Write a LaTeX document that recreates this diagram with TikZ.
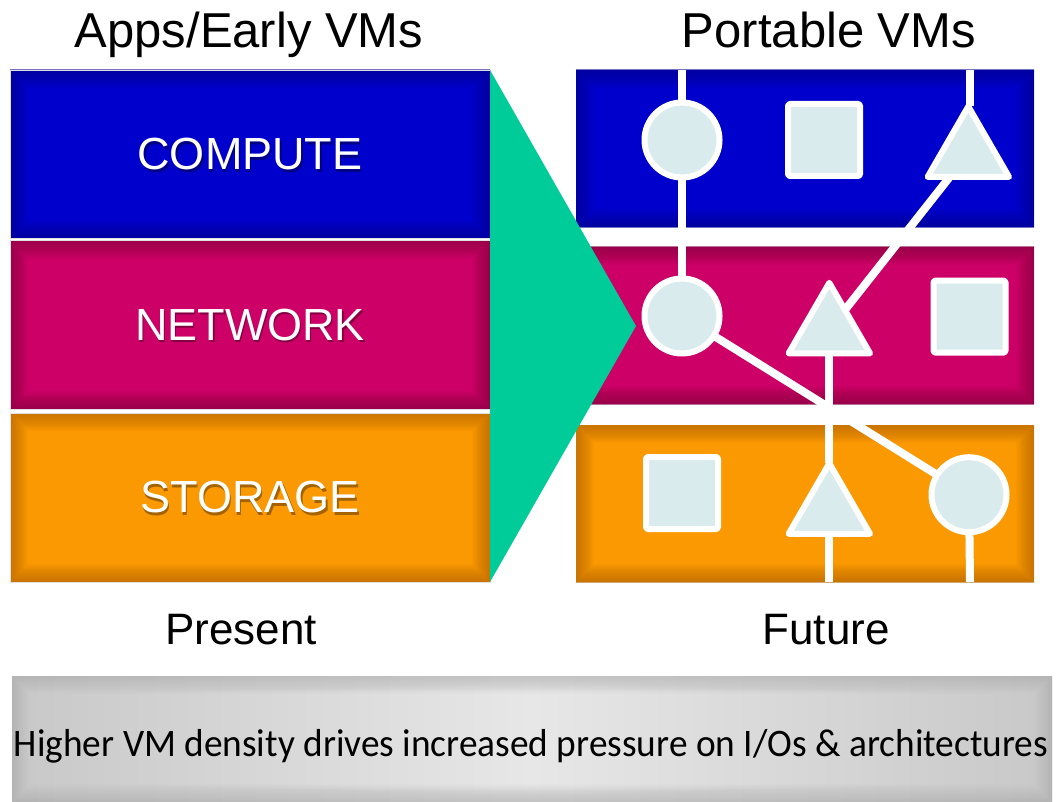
\documentclass[tikz,border=0pt]{standalone}
\usepackage{fontspec}
\usepackage{graphicx}
\setmainfont{Liberation Sans}
\newfontfamily\captionfont{Carlito}
\usetikzlibrary{shapes.geometric}

\pgfdeclarelayer{panels}
\pgfdeclarelayer{links}
\pgfsetlayers{panels,links,main}

\definecolor{cmpblue}{HTML}{0000CC}
\definecolor{cmpedge}{HTML}{00008C}
\definecolor{netpink}{HTML}{CC0066}
\definecolor{netedge}{HTML}{7D003D}
\definecolor{stoorange}{HTML}{FB9902}
\definecolor{stoedge}{HTML}{AE6200}
\definecolor{arrowgreen}{HTML}{00CC99}
\definecolor{vmfill}{HTML}{DAEBEE}
\definecolor{vmrim}{HTML}{B9C9CA}
\definecolor{bannerside}{HTML}{C8C8C8}
\definecolor{bannermid}{HTML}{E7E7E7}

% soft body colour of the VM tokens, darkening towards the rim
\pgfdeclareradialshading{vmshade}{\pgfpoint{0bp}{0bp}}{%
  color(0bp)=(vmfill); color(38bp)=(vmfill); color(50bp)=(vmrim); color(100bp)=(vmrim)}

\tikzset{
  vignette/.style={path picture={
    \foreach \k in {1,...,20}
      \draw[#1, opacity=0.04, line width=\k*1.8pt]
        (path picture bounding box.south west) rectangle (path picture bounding box.north east);}},
  panel/.style 2 args={fill=#1, vignette=#2, inner sep=0pt, outer sep=0pt},
  layerbox/.style={draw=black!12, line width=0.8pt},
  boxlabel/.style={font=\fontsize{45}{50}\selectfont, text=white, inner sep=0pt},
  labelshadow/.style={font=\fontsize{45}{50}\selectfont, text=black, opacity=0.35, inner sep=0pt},
  heading/.style={font=\fontsize{49}{55}\selectfont, inner sep=0pt, anchor=base},
  era/.style={font=\fontsize{44}{50}\selectfont, inner sep=0pt, anchor=base},
  vm/.style={shade, shading=vmshade, draw=white, line width=6pt, line join=round,
    inner sep=0pt, outer sep=0pt},
  vmcircle/.style={vm, circle, minimum size=75pt},
  vmsquare/.style={vm, rectangle, rounded corners=1.5pt, minimum width=72pt, minimum height=72pt},
  vmtriangle/.style={vm, regular polygon, regular polygon sides=3, minimum size=94pt},
  link/.style={draw=white, line width=8pt},
}

\begin{document}
\begin{tikzpicture}[x=1pt, y=-1pt]
\useasboundingbox (0,0) rectangle (1060,802);

% ---- column headings and captions
\node[heading] (head-left)  at (249,48) {Apps/Early VMs};
\node[heading] (head-right) at (829,48) {Portable VMs};
\node[era] (era-present) at (241,644) {Present};
\node[era] (era-future)  at (826,644) {Future};

% ---- present: three stacked layers
\begin{pgfonlayer}{panels}
  \node[panel={cmpblue}{cmpedge}, layerbox, minimum width=480pt, minimum height=168.5pt] (l-compute) at (250,154.25) {};
  \node[panel={netpink}{netedge}, layerbox, minimum width=480pt, minimum height=168.4pt] (l-network) at (250,324.8) {};
  \node[panel={stoorange}{stoedge}, layerbox, minimum width=480pt, minimum height=169pt] (l-storage) at (250,497.5) {};

  % ---- future: three bands crossed by portable VMs
  \node[panel={cmpblue}{cmpedge}, minimum width=458pt, minimum height=157.5pt] (r-compute) at (805,148.75) {};
  \node[panel={netpink}{netedge}, minimum width=458pt, minimum height=157pt] (r-network) at (805,325.5) {};
  \node[panel={stoorange}{stoedge}, minimum width=458pt, minimum height=157pt] (r-storage) at (805,503.5) {};

  % ---- transition arrow
  \coordinate (arrow-top) at (490,70);
  \coordinate (arrow-tip) at (636,326);
  \coordinate (arrow-bot) at (490,582);
  \fill[arrowgreen] (arrow-top) -- (arrow-tip) -- (arrow-bot) -- cycle;
\end{pgfonlayer}

% ---- layer names with a soft dark shadow
\foreach \nm/\txt/\yy in {cmp/COMPUTE/154.25, net/NETWORK/324.8, sto/STORAGE/497.5}{
  \node[labelshadow] (shadow-\nm) at (251.5,\yy+2.5) {\txt};
  \node[boxlabel] (label-\nm) at (250,\yy) {\txt};
}

% ---- VM tokens
\node[vmcircle]   (c1) at (682,140) {};
\node[vmsquare]   (s1) at (824,140) {};
\node[vmtriangle] (t1) at (968.3,153.4) {};

\node[vmcircle]   (c2) at (682,316) {};
\node[vmtriangle] (t2) at (829.3,329.8) {};
\node[vmsquare]   (s2) at (969.5,316.6) {};

\node[vmsquare]   (s3) at (682,493) {};
\node[vmtriangle] (t3) at (829.3,510.3) {};
\node[vmcircle]   (c4) at (969,494.7) {};

% ---- links between the VMs
\coordinate (c-in)  at (682,70);
\coordinate (t-in)  at (970,70);
\coordinate (t-out) at (829.3,582);
\coordinate (c-out) at (970,582);
\begin{pgfonlayer}{links}
  \draw[link] (c-in) -- (c1);
  \draw[link] (c1) -- (c2);
  \draw[link] (t-in) -- (t-in |- t1.corner 1);
  \draw[link] (t1) -- (t2);
  \draw[link] (c2) -- (c4);
  \draw[link] (t2) -- (t3);
  \draw[link] (t3) -- (t-out);
  \draw[link] (c4) -- (c-out);
\end{pgfonlayer}

% ---- bottom banner
\node[left color=bannerside, right color=bannerside, middle color=bannermid,
      vignette=black!30, inner sep=0pt, outer sep=0pt,
      minimum width=1040pt, minimum height=126pt] (banner) at (532,739) {};
\node[inner sep=0pt, anchor=base] (banner-text) at (531,756)
  {\captionfont\fontsize{39}{44}\selectfont\resizebox{1034pt}{\height}{Higher VM density drives increased pressure on I/Os \& architectures}};
\end{tikzpicture}
\end{document}
